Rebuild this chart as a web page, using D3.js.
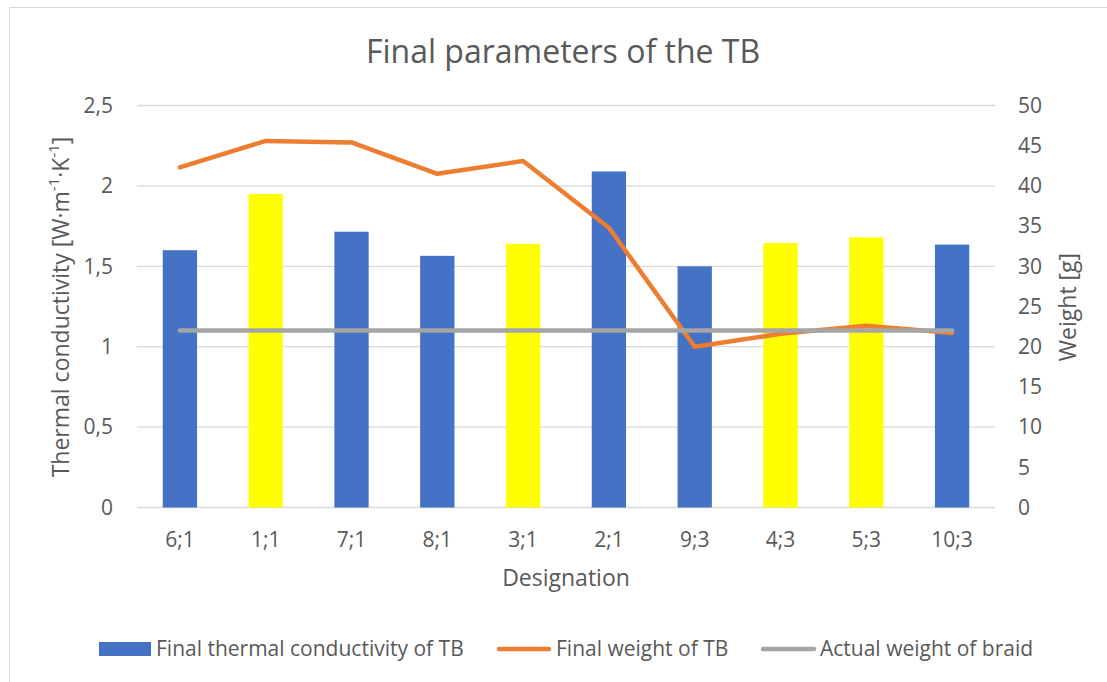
<!DOCTYPE html>
<html>
<head>
<meta charset="utf-8">
<script src="https://cdn.jsdelivr.net/npm/d3@7"></script>
<style>
  body { margin: 0; background: #fff; }
  text { font-family: "Open Sans", sans-serif; fill: #595959; }
</style>
</head>
<body>
<div id="chart"></div>
<script>
// data
const designations = ["6;1", "1;1", "7;1", "8;1", "3;1", "2;1", "9;3", "4;3", "5;3", "10;3"];
const conductivity = [1.60, 1.95, 1.715, 1.565, 1.64, 2.09, 1.50, 1.645, 1.68, 1.635];
const highlighted = [false, true, false, false, true, false, false, true, true, false];
const finalWeight = [42.3, 45.6, 45.4, 41.5, 43.1, 34.8, 20.0, 21.6, 22.6, 21.7];
const braidWeight = [22, 22, 22, 22, 22, 22, 22, 22, 22, 22];
const leftTicks = [0, 0.5, 1, 1.5, 2, 2.5];
const rightTicks = [0, 5, 10, 15, 20, 25, 30, 35, 40, 45, 50];

const W = 1107, H = 682;
const plot = { left: 137, right: 995, top: 105.5, bottom: 507.5 };

const svg = d3.select("#chart").append("svg")
  .attr("width", W)
  .attr("height", H);

// chart frame
svg.append("rect")
  .attr("x", 9.5).attr("y", 7.5)
  .attr("width", W + 20).attr("height", H + 20)
  .attr("fill", "#fff")
  .attr("stroke", "#d9d9d9");

const x = d3.scaleBand()
  .domain(designations)
  .range([plot.left, plot.right])
  .paddingInner(0.6)
  .paddingOuter(0.3);

const yL = d3.scaleLinear().domain([0, 2.5]).range([plot.bottom, plot.top]);
const yR = d3.scaleLinear().domain([0, 50]).range([plot.bottom, plot.top]);

const fmt = d => String(d).replace(".", ",");

// gridlines
svg.append("g")
  .selectAll("line")
  .data(leftTicks)
  .enter().append("line")
  .attr("x1", plot.left).attr("x2", plot.right)
  .attr("y1", d => yL(d)).attr("y2", d => yL(d))
  .attr("stroke", "#d9d9d9")
  .attr("stroke-width", 1.3);

// left axis
const axL = svg.append("g")
  .attr("transform", "translate(" + (plot.left - 24) + ",0)")
  .call(d3.axisLeft(yL).tickValues(leftTicks).tickFormat(fmt).tickSize(0).tickPadding(0));
axL.select(".domain").remove();
axL.selectAll("text").style("font-size", "21px").attr("fill", "#595959").attr("font-family", "Open Sans");

// right axis
const axR = svg.append("g")
  .attr("transform", "translate(" + (plot.right + 23) + ",0)")
  .call(d3.axisRight(yR).tickValues(rightTicks).tickSize(0).tickPadding(0));
axR.select(".domain").remove();
axR.selectAll("text").style("font-size", "21px").attr("fill", "#595959").attr("font-family", "Open Sans");

// bottom axis labels
const axB = svg.append("g")
  .attr("transform", "translate(0," + (plot.bottom + 24.5) + ")")
  .call(d3.axisBottom(x).tickSize(0).tickPadding(0));
axB.select(".domain").remove();
axB.selectAll("text").style("font-size", "21px").attr("fill", "#595959").attr("font-family", "Open Sans");

// bars
svg.append("g")
  .selectAll("rect")
  .data(designations)
  .enter().append("rect")
  .attr("x", d => x(d))
  .attr("width", x.bandwidth())
  .attr("y", (d, i) => yL(conductivity[i]))
  .attr("height", (d, i) => yL(0) - yL(conductivity[i]))
  .attr("fill", (d, i) => highlighted[i] ? "#ffff00" : "#4472c4");

const cx = d => x(d) + x.bandwidth() / 2;

// final weight line
svg.append("path")
  .datum(designations)
  .attr("fill", "none")
  .attr("stroke", "#ed7d31")
  .attr("stroke-width", 4.5)
  .attr("stroke-linejoin", "round")
  .attr("stroke-linecap", "round")
  .attr("d", d3.line().x(d => cx(d)).y((d, i) => yR(finalWeight[i])));

// braid weight line
svg.append("path")
  .datum(designations)
  .attr("fill", "none")
  .attr("stroke", "#a5a5a5")
  .attr("stroke-width", 4.5)
  .attr("stroke-linejoin", "round")
  .attr("stroke-linecap", "round")
  .attr("d", d3.line().x(d => cx(d)).y((d, i) => yR(braidWeight[i])));

// title
svg.append("text")
  .attr("x", 563)
  .attr("y", 63)
  .attr("text-anchor", "middle")
  .style("font-size", "32px")
  .text("Final parameters of the TB");

// x axis title
svg.append("text")
  .attr("x", 566)
  .attr("y", 586)
  .attr("text-anchor", "middle")
  .style("font-size", "23px")
  .text("Designation");

// left axis title
const tl = svg.append("text")
  .attr("transform", "translate(69,307) rotate(-90)")
  .attr("text-anchor", "middle")
  .style("font-size", "23px");
tl.append("tspan").text("Thermal conductivity [W·m");
tl.append("tspan").attr("baseline-shift", "super").style("font-size", "15px").text("-1");
tl.append("tspan").text("·K");
tl.append("tspan").attr("baseline-shift", "super").style("font-size", "15px").text("-1");
tl.append("tspan").text("]");

// right axis title
svg.append("text")
  .attr("transform", "translate(1076,307) rotate(-90)")
  .attr("text-anchor", "middle")
  .style("font-size", "23px")
  .text("Weight [g]");

// legend
const legY = 649;
const leg = svg.append("g").style("font-size", "21px");

leg.append("rect")
  .attr("x", 99).attr("y", legY - 7)
  .attr("width", 52).attr("height", 14)
  .attr("fill", "#4472c4");
leg.append("text")
  .attr("x", 156).attr("y", legY + 7)
  .text("Final thermal conductivity of TB");

leg.append("line")
  .attr("x1", 499).attr("x2", 549)
  .attr("y1", legY).attr("y2", legY)
  .attr("stroke", "#ed7d31").attr("stroke-width", 4.5)
  .attr("stroke-linecap", "round");
leg.append("text")
  .attr("x", 556).attr("y", legY + 7)
  .text("Final weight of TB");

leg.append("line")
  .attr("x1", 763).attr("x2", 814)
  .attr("y1", legY).attr("y2", legY)
  .attr("stroke", "#a5a5a5").attr("stroke-width", 4.5)
  .attr("stroke-linecap", "round");
leg.append("text")
  .attr("x", 820).attr("y", legY + 7)
  .text("Actual weight of braid");
</script>
</body>
</html>
